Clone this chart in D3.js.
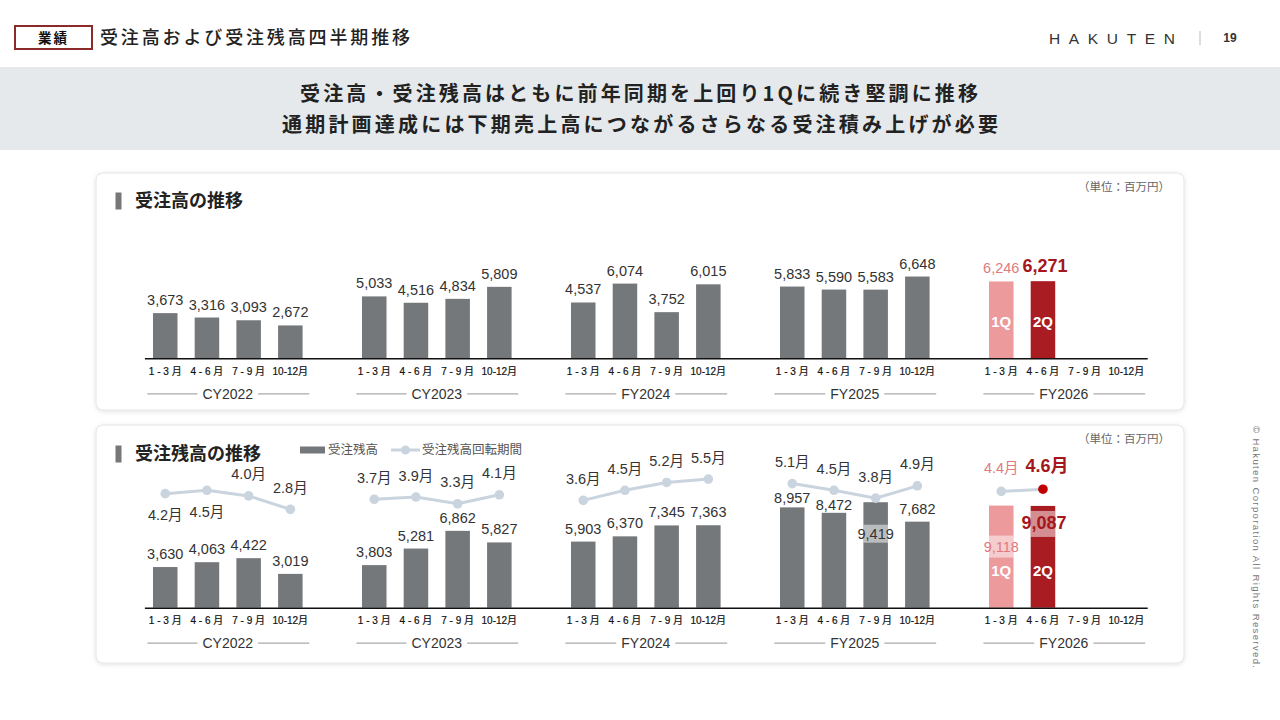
<!DOCTYPE html>
<html>
<head>
<meta charset="utf-8">
<script src="https://cdn.jsdelivr.net/npm/d3@7"></script>
<style>
  body { margin: 0; background: #fff; }
  svg { display: block; }
</style>
</head>
<body>
<svg id="chart" width="1280" height="720"></svg>
<script>
// 期間とカテゴリ
const groups = ["CY2022", "CY2023", "FY2024", "FY2025", "FY2026"]
const quarters = ["1 - 3 月", "4 - 6 月", "7 - 9 月", "10-12月"]

// 受注高（百万円）
const orders = [
  [3673, 3316, 3093, 2672],
  [5033, 4516, 4834, 5809],
  [4537, 6074, 3752, 6015],
  [5833, 5590, 5583, 6648],
  [6246, 6271, null, null]
]
// 受注残高（百万円）
const backlog = [
  [3630, 4063, 4422, 3019],
  [3803, 5281, 6862, 5827],
  [5903, 6370, 7345, 7363],
  [8957, 8472, 9419, 7682],
  [9118, 9087, null, null]
]
// 受注残高回転期間（月）
const turnover = [
  [4.2, 4.5, 4.0, 2.8],
  [3.7, 3.9, 3.3, 4.1],
  [3.6, 4.5, 5.2, 5.5],
  [5.1, 4.5, 3.8, 4.9],
  [4.4, 4.6, null, null]
]
const qLabels = ["1Q", "2Q"]

const NUM = "'Liberation Sans', Arial, 'Noto Sans CJK JP', sans-serif"
const JP = "'Noto Sans CJK JP', sans-serif"
const gray = "#75787b", pink = "#ec9a9c", red = "#a81c22"
const pinkText = "#e07a7f", redText = "#a3171d"
const lineCol = "#c9d4de", redDot = "#c00000"

const svg = d3.select("#chart")

// 影
const defs = svg.append("defs")
defs.append("filter").attr("id", "sh").attr("x", "-5%").attr("y", "-10%").attr("width", "110%").attr("height", "125%")
  .append("feDropShadow").attr("dx", 0).attr("dy", 1).attr("stdDeviation", 2)
  .attr("flood-color", "#000").attr("flood-opacity", 0.12)

// ヘッダー
svg.append("rect").attr("x", 15).attr("y", 26).attr("width", 77).attr("height", 23)
  .attr("fill", "#fff").attr("stroke", "#8c2a2a").attr("stroke-width", 2)
svg.append("text").attr("x", 53.5).attr("y", 38).attr("dy", "0.35em")
  .attr("text-anchor", "middle").attr("font-family", JP).attr("font-weight", "bold")
  .attr("font-size", 13.5).attr("letter-spacing", 2).attr("fill", "#111").text("業績")
svg.append("text").attr("x", 100).attr("y", 38).attr("dy", "0.35em")
  .attr("font-family", JP).attr("font-weight", 500).attr("font-size", 18)
  .attr("textLength", 310).attr("lengthAdjust", "spacing").attr("fill", "#222")
  .text("受注高および受注残高四半期推移")

svg.append("text").attr("x", 1049).attr("y", 39).attr("dy", "0.35em")
  .attr("font-family", "'Liberation Sans', sans-serif")
  .attr("font-size", 15.5).attr("textLength", 126).attr("lengthAdjust", "spacing")
  .attr("fill", "#333").text("HAKUTEN")
svg.append("line").attr("x1", 1200).attr("x2", 1200).attr("y1", 31).attr("y2", 45)
  .attr("stroke", "#bbb").attr("stroke-width", 1)
svg.append("text").attr("x", 1230).attr("y", 38).attr("dy", "0.35em").attr("text-anchor", "middle")
  .attr("font-family", NUM).attr("font-weight", "bold").attr("font-size", 12)
  .attr("fill", "#333").text("19")

// メッセージ帯
svg.append("rect").attr("x", 0).attr("y", 67).attr("width", 1280).attr("height", 83).attr("fill", "#e5e9ec")
const msg = [
  {t: "受注高・受注残高はともに前年同期を上回り1Qに続き堅調に推移", x: 300, w: 678, y: 94},
  {t: "通期計画達成には下期売上高につながるさらなる受注積み上げが必要", x: 282, w: 716, y: 125}
]
svg.selectAll(".msg").data(msg).enter().append("text")
  .attr("x", d => d.x).attr("y", d => d.y).attr("dy", "0.35em")
  .attr("font-family", JP).attr("font-weight", "bold").attr("font-size", 20)
  .attr("textLength", d => d.w).attr("lengthAdjust", "spacing")
  .attr("fill", "#222").text(d => d.t)

// 著作権表示
svg.append("text").attr("transform", "translate(1253,426) rotate(90)")
  .attr("font-family", NUM).attr("font-size", 9.5).attr("fill", "#777")
  .attr("textLength", 242).attr("lengthAdjust", "spacing")
  .text("© Hakuten Corporation All Rights Reserved.")

// スケール
const xGroup = d3.scaleBand().domain(groups).range([144.4, 1147.2]).paddingInner(0.202)
const xQ = d3.scaleBand().domain(quarters).range([0, xGroup.bandwidth()])
  .paddingInner(0.412).paddingOuter(0.206)
const cx = d => xGroup(d.g) + xQ(d.q) + xQ.bandwidth() / 2

const flat = arr => arr.flatMap((row, gi) => row.map((v, qi) =>
  ({g: groups[gi], q: quarters[qi], gi, qi, v, key: groups[gi] + "-" + qi})))

const barFill = d => d.g === "FY2026" ? (d.qi === 0 ? pink : red) : gray

function panel(y, h, title, titleY) {
  svg.append("rect").attr("x", 96).attr("y", y).attr("width", 1088).attr("height", h)
    .attr("rx", 7).attr("fill", "#fff").attr("stroke", "#e4e4e4").attr("filter", "url(#sh)")
  svg.append("rect").attr("x", 115.5).attr("y", titleY - 8.5).attr("width", 6).attr("height", 17).attr("fill", "#777")
  svg.append("text").attr("x", 135).attr("y", titleY).attr("dy", "0.35em")
    .attr("font-family", JP).attr("font-weight", "bold").attr("font-size", 18)
    .attr("fill", "#222").text(title)
  svg.append("text").attr("x", 1170).attr("y", y + 14).attr("dy", "0.35em").attr("text-anchor", "end")
    .attr("font-family", JP).attr("font-size", 11.5).attr("fill", "#666").text("（単位：百万円）")
}

function axisAndLabels(base) {
  const g = svg.append("g").attr("transform", `translate(0,${base})`)
  g.call(d3.axisBottom(xGroup).tickSize(0).tickFormat(""))
  g.select(".domain").attr("stroke", "#111").attr("stroke-width", 1.5)

  svg.append("g").selectAll("text").data(flat(orders)).enter().append("text")
    .attr("x", cx).attr("y", base + 13).attr("dy", "0.35em").attr("text-anchor", "middle")
    .attr("font-family", NUM).attr("font-size", 10).attr("fill", "#111")
    .attr("stroke", "#111").attr("stroke-width", 0.2)
    .text(d => d.q)

  const gl = svg.append("g").selectAll("g").data(groups).enter().append("g")
  const gy = base + 35.5
  gl.append("text").attr("x", d => xGroup(d) + xGroup.bandwidth() / 2).attr("y", gy).attr("dy", "0.35em")
    .attr("text-anchor", "middle").attr("font-family", NUM).attr("font-size", 14).attr("fill", "#333")
    .text(d => d)
  gl.each(function(d) {
    const w = d3.select(this).select("text").node().getComputedTextLength()
    const c = xGroup(d) + xGroup.bandwidth() / 2
    const s = d3.select(this)
    s.append("line").attr("x1", xGroup(d) + 3).attr("x2", c - w / 2 - 5)
    s.append("line").attr("x1", c + w / 2 + 5).attr("x2", xGroup(d) + xGroup.bandwidth() - 2)
    s.selectAll("line").attr("y1", gy).attr("y2", gy).attr("stroke", "#aaa").attr("stroke-width", 1.2)
  })
}

function qTags(data, base) {
  svg.append("g").selectAll("text").data(data.filter(d => d.g === "FY2026" && d.v != null)).enter()
    .append("text").attr("x", cx).attr("y", base - 37).attr("dy", "0.35em").attr("text-anchor", "middle")
    .attr("font-family", NUM).attr("font-weight", "bold").attr("font-size", 15).attr("fill", "#fff")
    .text(d => qLabels[d.qi])
}

function valueStyle(sel) {
  sel.attr("font-family", NUM)
    .attr("font-size", d => d.g === "FY2026" && d.qi === 1 ? 18 : 14.5)
    .attr("font-weight", d => d.g === "FY2026" && d.qi === 1 ? "bold" : "normal")
    .attr("fill", d => d.g === "FY2026" ? (d.qi === 0 ? pinkText : redText) : "#333")
}

// ===== 受注高の推移 =====
panel(173, 237, "受注高の推移", 201)
const baseTop = 358.3
const yTop = d3.scaleLinear().domain([0, 10000]).range([baseTop, baseTop - 123])
const ordData = flat(orders).filter(d => d.v != null)

svg.append("g").selectAll("rect").data(ordData).enter().append("rect")
  .attr("x", d => xGroup(d.g) + xQ(d.q)).attr("width", xQ.bandwidth())
  .attr("y", d => yTop(d.v)).attr("height", d => baseTop - yTop(d.v))
  .attr("fill", barFill)
svg.append("g").selectAll("text").data(ordData).enter().append("text")
  .attr("x", d => cx(d) + (d.g === "FY2026" && d.qi === 1 ? 2 : 0))
  .attr("y", d => yTop(d.v) - (d.g === "FY2026" && d.qi === 1 ? 9 : 8))
  .attr("text-anchor", "middle").call(valueStyle)
  .text(d => d3.format(",")(d.v))
axisAndLabels(baseTop)
qTags(ordData, baseTop)

// ===== 受注残高の推移 =====
panel(425, 238, "受注残高の推移", 454)
const baseBot = 607.7
const yBot = d3.scaleLinear().domain([0, 10000]).range([baseBot, baseBot - 112])
const yLine = d3.scaleLinear().domain([0, 10]).range([540.7, 428.7])
const blData = flat(backlog).filter(d => d.v != null)
const toData = flat(turnover).filter(d => d.v != null)

// 凡例
svg.append("rect").attr("x", 300).attr("y", 446.5).attr("width", 25).attr("height", 7).attr("fill", gray)
svg.append("text").attr("x", 328).attr("y", 450).attr("dy", "0.35em").attr("font-family", JP)
  .attr("font-size", 12.5).attr("fill", "#555").text("受注残高")
svg.append("line").attr("x1", 391).attr("x2", 420).attr("y1", 450).attr("y2", 450)
  .attr("stroke", lineCol).attr("stroke-width", 3)
svg.append("circle").attr("cx", 405.5).attr("cy", 450).attr("r", 4.5).attr("fill", lineCol)
svg.append("text").attr("x", 422).attr("y", 450).attr("dy", "0.35em").attr("font-family", JP)
  .attr("font-size", 12.5).attr("fill", "#555").text("受注残高回転期間")

svg.append("g").selectAll("rect").data(blData).enter().append("rect")
  .attr("x", d => xGroup(d.g) + xQ(d.q)).attr("width", xQ.bandwidth())
  .attr("y", d => yBot(d.v)).attr("height", d => baseBot - yBot(d.v))
  .attr("fill", barFill)

// バー内に置くラベル（中心の位置：バー上端からのずれ、帯の高さ）
const inside = {"FY2025-2": [31.5, 18], "FY2026-0": [41, 22], "FY2026-1": [18, 26]}
const nudge = {"FY2025-0": 4, "FY2025-1": 5}

const inData = blData.filter(d => inside[d.key])
svg.append("g").selectAll("rect").data(inData).enter().append("rect")
  .attr("x", d => xGroup(d.g) + xQ(d.q)).attr("width", xQ.bandwidth())
  .attr("y", d => yBot(d.v) + inside[d.key][0] - inside[d.key][1] / 2)
  .attr("height", d => inside[d.key][1])
  .attr("fill", "#fff").attr("fill-opacity", 0.5)

svg.append("g").selectAll("text").data(blData).enter().append("text")
  .attr("x", d => cx(d) + (d.g === "FY2026" && d.qi === 1 ? 1 : 0))
  .attr("y", d => inside[d.key] ? yBot(d.v) + inside[d.key][0] + 5
    : yBot(d.v) - 8 + (nudge[d.key] || 0))
  .attr("text-anchor", "middle").call(valueStyle)
  .text(d => d3.format(",")(d.v))

// 回転期間の折れ線（期ごと）
const line = d3.line().x(cx).y(d => yLine(d.v))
svg.append("g").selectAll("path").data(groups).enter().append("path")
  .attr("d", g => line(toData.filter(d => d.g === g)))
  .attr("fill", "none").attr("stroke", lineCol).attr("stroke-width", 3)
svg.append("g").selectAll("circle").data(toData).enter().append("circle")
  .attr("cx", cx).attr("cy", d => yLine(d.v)).attr("r", 4.8)
  .attr("fill", d => d.g === "FY2026" && d.qi === 1 ? redDot : lineCol)

const below = new Set(["CY2022-0", "CY2022-1"])
svg.append("g").selectAll("text").data(toData).enter().append("text")
  .attr("x", d => cx(d) + (d.g === "FY2026" && d.qi === 1 ? 4 : 0))
  .attr("y", d => yLine(d.v) + (below.has(d.key) ? 21.5 : (d.g === "FY2026" ? -23 : -21.5)))
  .attr("dy", "0.35em").attr("text-anchor", "middle").call(valueStyle)
  .text(d => d.v.toFixed(1) + "月")

axisAndLabels(baseBot)
qTags(blData, baseBot)
</script>
</body>
</html>
